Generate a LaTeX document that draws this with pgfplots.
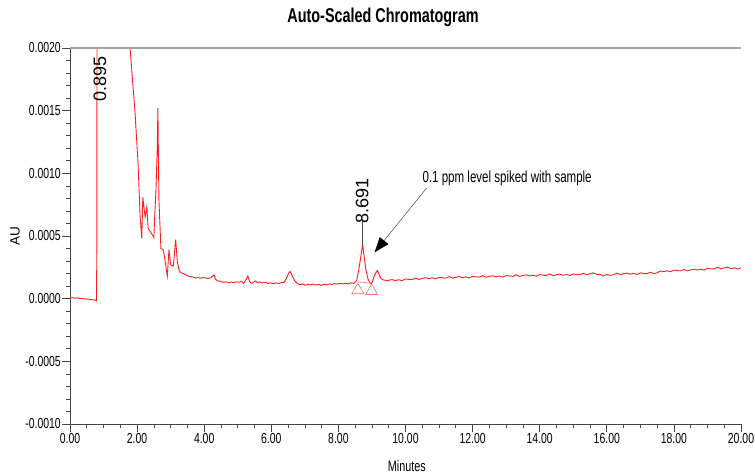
\documentclass[border=0pt]{standalone}
\usepackage{fontspec}
\setmainfont{Liberation Sans}
\newfontfamily\narrowfont[FakeStretch=0.72]{Liberation Sans}
\usepackage{pgfplots}
\pgfplotsset{compat=1.18}
\usetikzlibrary{arrows.meta}

\definecolor{trace}{RGB}{255,30,30}
\definecolor{tri}{RGB}{255,110,110}
\definecolor{axgray}{RGB}{70,70,70}
\definecolor{topgray}{RGB}{165,165,165}

\begin{document}
\begin{tikzpicture}
\begin{axis}[
    name=ax,
    scale only axis,
    width=671bp, height=376bp,
    xmin=0, xmax=20, ymin=-0.001, ymax=0.002,
    axis x line*=bottom, axis y line*=left,
    axis line style={axgray, line width=0.8bp},
    clip mode=individual,
    xtick={0,2,4,6,8,10,12,14,16,18,20},
    minor x tick num=3,
    ytick={-0.001,-0.0005,0,0.0005,0.001,0.0015,0.002},
    minor y tick num=4,
    scaled y ticks=false,
    tick align=outside,
    major tick length=8bp, minor tick length=4bp,
    tick style={axgray, line width=0.7bp},
    /pgf/number format/assume math mode=true,
    xticklabel style={font=\narrowfont\fontsize{14.5bp}{16bp}\selectfont, inner sep=1.5bp,
        /pgf/number format/fixed, /pgf/number format/fixed zerofill, /pgf/number format/precision=2},
    yticklabel style={font=\narrowfont\fontsize{14.5bp}{16bp}\selectfont, inner sep=1bp,
        /pgf/number format/fixed, /pgf/number format/fixed zerofill, /pgf/number format/precision=4},
    title={Auto-Scaled Chromatogram},
    title style={font=\narrowfont\bfseries\fontsize{20bp}{22bp}\selectfont,
        at={(axis description cs:0.4665,1)}, anchor=center, yshift=25bp},
    xlabel={Minutes},
    xlabel style={font=\narrowfont\fontsize{15bp}{17bp}\selectfont,
        at={(axis description cs:0.502,0)}, anchor=center, yshift=-42bp},
    ylabel={AU},
    ylabel style={font=\fontsize{13.5bp}{15bp}\selectfont,
        at={(axis description cs:-0.082,0.5)}, anchor=center},
]
% chromatogram trace
\addplot[trace, line width=0.9bp] coordinates {
(0.00,3e-6) (0.05,6e-6) (0.10,8e-6) (0.15,4e-6) (0.20,7e-6) (0.25,3e-6) (0.30,1e-6)
(0.35,4e-6) (0.40,-2e-6) (0.45,0) (0.50,-5e-6) (0.55,-3e-6) (0.60,-9e-6) (0.65,-7e-6)
(0.70,-12e-6) (0.75,-10e-6) (0.79,-18e-6) (0.80,0.0004) (0.81,0.004) (0.89,0.008)
(1.30,0.006) (1.70,0.0035) (1.76,0.0024) (1.79,0.0020) (1.94,0.00148) (2.03,0.00107)
(2.09,0.00065) (2.14,0.00048) (2.17,0.00081) (2.24,0.00065) (2.29,0.00073) (2.33,0.00056)
(2.43,0.00052) (2.50,0.00049) (2.53,0.00069) (2.56,0.00085) (2.60,0.00119) (2.62,0.00152)
(2.65,0.00079) (2.71,0.00040) (2.78,0.00039) (2.83,0.00031) (2.90,0.00018) (2.95,0.00039)
(3.00,0.00027) (3.08,0.00026) (3.15,0.00047) (3.20,0.00029) (3.26,0.00022)
(3.32,205e-6) (3.38,200e-6) (3.45,190e-6) (3.53,180e-6) (3.60,176e-6) (3.68,172e-6)
(3.75,165e-6) (3.82,168e-6) (3.90,162e-6) (3.97,170e-6) (4.05,165e-6) (4.12,160e-6)
(4.20,168e-6) (4.29,190e-6) (4.34,155e-6) (4.40,142e-6) (4.48,138e-6) (4.57,130e-6)
(4.65,134e-6) (4.73,128e-6) (4.80,133e-6) (4.88,127e-6) (4.96,134e-6) (5.04,131e-6)
(5.12,138e-6) (5.17,122e-6) (5.24,150e-6) (5.30,180e-6) (5.35,140e-6) (5.40,122e-6)
(5.46,128e-6) (5.52,142e-6) (5.58,130e-6) (5.66,132e-6) (5.74,126e-6) (5.82,130e-6)
(5.90,122e-6) (5.98,127e-6) (6.06,120e-6) (6.14,126e-6) (6.22,121e-6) (6.30,128e-6)
(6.38,130e-6) (6.45,160e-6) (6.51,200e-6) (6.56,218e-6) (6.62,185e-6) (6.70,142e-6)
(6.78,120e-6) (6.85,112e-6) (6.93,116e-6) (7.01,108e-6) (7.09,114e-6) (7.17,110e-6)
(7.25,117e-6) (7.33,109e-6) (7.41,113e-6) (7.49,106e-6) (7.57,115e-6) (7.65,111e-6)
(7.73,118e-6) (7.81,113e-6) (7.89,120e-6) (7.97,116e-6) (8.05,123e-6) (8.13,117e-6)
(8.21,124e-6) (8.29,118e-6) (8.37,126e-6) (8.45,122e-6) (8.49,130e-6) (8.55,150e-6)
(8.60,220e-6) (8.66,320e-6) (8.72,430e-6) (8.77,330e-6) (8.82,230e-6) (8.88,160e-6)
(8.93,130e-6) (8.97,118e-6) (9.02,140e-6) (9.08,190e-6) (9.16,225e-6) (9.22,190e-6)
(9.27,160e-6) (9.33,150e-6) (9.40,147e-6) (9.46,142e-6) (9.53,149e-6)
(9.6,152e-6) (9.7,144e-6) (9.8,151e-6) (9.9,144e-6) (10.0,157e-6) (10.1,154e-6)
(10.2,152e-6) (10.3,165e-6) (10.4,153e-6) (10.5,161e-6) (10.6,167e-6) (10.7,159e-6)
(10.8,167e-6) (10.9,158e-6) (11.0,171e-6) (11.1,167e-6) (11.2,164e-6) (11.3,176e-6)
(11.4,164e-6) (11.5,171e-6) (11.6,176e-6) (11.7,167e-6) (11.8,174e-6) (11.9,165e-6)
(12.0,178e-6) (12.1,174e-6) (12.2,172e-6) (12.3,183e-6) (12.4,171e-6) (12.5,178e-6)
(12.6,183e-6) (12.7,174e-6) (12.8,181e-6) (12.9,172e-6) (13.0,185e-6) (13.1,181e-6)
(13.2,178e-6) (13.3,190e-6) (13.4,178e-6) (13.5,184e-6) (13.6,190e-6) (13.7,181e-6)
(13.8,187e-6) (13.9,179e-6) (14.0,192e-6) (14.1,187e-6) (14.2,185e-6) (14.3,197e-6)
(14.4,184e-6) (14.5,191e-6) (14.6,196e-6) (14.7,187e-6) (14.8,193e-6) (14.9,185e-6)
(15.0,197e-6) (15.1,193e-6) (15.2,191e-6) (15.3,203e-6) (15.4,191e-6) (15.5,199e-6)
(15.6,206e-6) (15.7,193e-6) (15.8,194e-6) (15.9,181e-6) (16.0,192e-6) (16.1,186e-6)
(16.2,190e-6) (16.3,204e-6) (16.4,192e-6) (16.5,199e-6) (16.6,204e-6) (16.7,195e-6)
(16.8,202e-6) (16.9,193e-6) (17.0,206e-6) (17.1,202e-6) (17.2,199e-6) (17.3,211e-6)
(17.4,199e-6) (17.5,207e-6) (17.6,220e-6) (17.7,216e-6) (17.8,223e-6) (17.9,215e-6)
(18.0,228e-6) (18.1,224e-6) (18.2,222e-6) (18.3,234e-6) (18.4,222e-6) (18.5,229e-6)
(18.6,236e-6) (18.7,228e-6) (18.8,235e-6) (18.9,228e-6) (19.0,242e-6) (19.1,238e-6)
(19.2,237e-6) (19.3,250e-6) (19.4,238e-6) (19.5,246e-6) (19.6,251e-6) (19.7,240e-6)
(19.8,246e-6) (19.9,236e-6) (20.0,246e-6)
};
% integration baseline and peak start/end markers
\addplot[tri, line width=0.6bp] coordinates {(8.49,136e-6) (8.99,123e-6)};
\addplot[tri, only marks, mark=triangle, mark size=7bp, mark options={line width=0.6bp}]
  coordinates {(8.58,67e-6) (8.99,61e-6)};

% top frame line
\draw[topgray, line width=2.2bp] (rel axis cs:0,1) -- (rel axis cs:1,1);

% peak labels
\node[rotate=90, font=\fontsize{18bp}{20bp}\selectfont] at (axis cs:0.894,0.001753) {0.895};
\draw[axgray, line width=0.6bp] (axis cs:8.72,0.00043) -- (axis cs:8.72,0.00063);
\node[rotate=90, font=\fontsize{18bp}{20bp}\selectfont] at (axis cs:8.71,0.00078) {8.691};

% annotation
\node[font=\narrowfont\fontsize{16bp}{18bp}\selectfont] at (axis cs:13.03,0.000963)
  {0.1 ppm level spiked with sample};
\draw[axgray, line width=0.5bp, -{Triangle[length=15bp,width=11bp,fill=black,color=black]}]
  (axis cs:10.63,0.000883) -- (axis cs:9.08,0.00037);
\end{axis}
\pgfresetboundingbox
\path[use as bounding box] (ax.south west) ++(-70bp,-50bp) rectangle ++(755bp,474bp);
\end{tikzpicture}
\end{document}
